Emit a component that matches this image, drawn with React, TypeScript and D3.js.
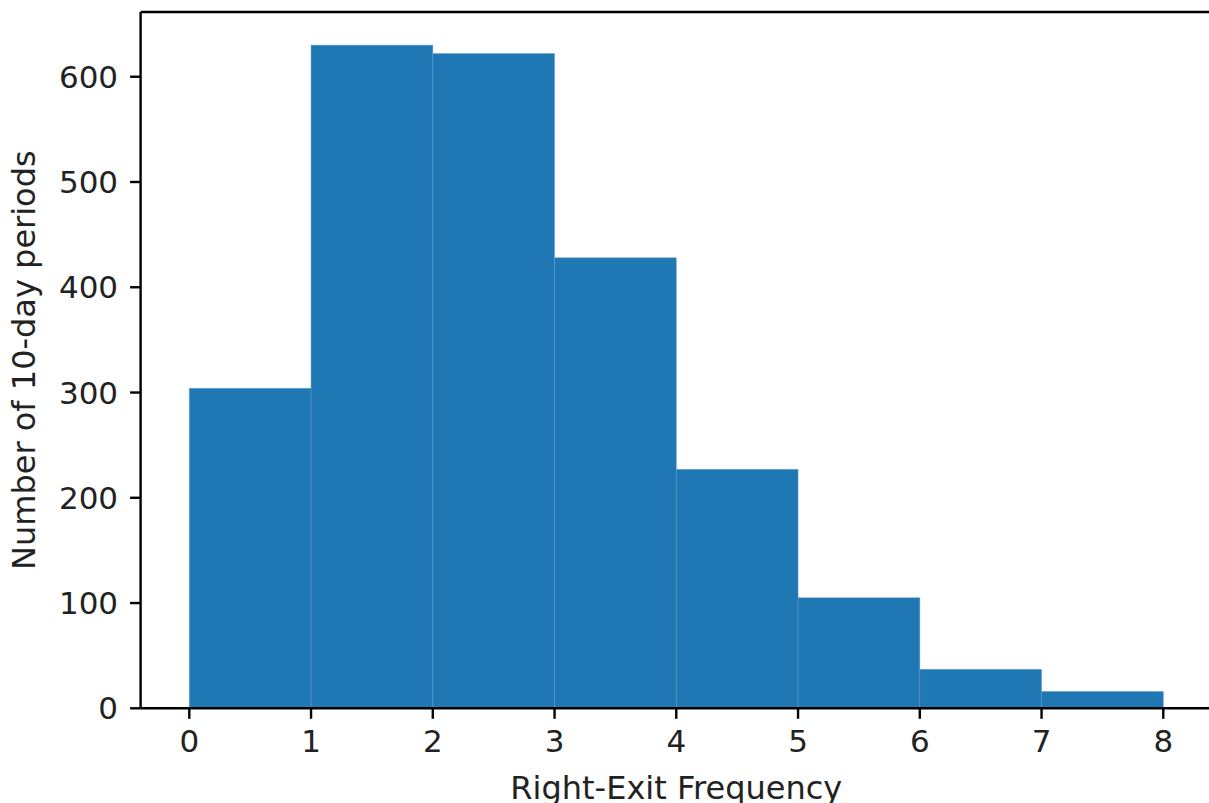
import React from "react";
import * as d3 from "d3";

const binEdges = [0, 1, 2, 3, 4, 5, 6, 7, 8];
const counts = [304, 630, 622, 428, 227, 105, 37, 16];
const xTicks = [0, 1, 2, 3, 4, 5, 6, 7, 8];
const yTicks = [0, 100, 200, 300, 400, 500, 600];
const xLabel = "Right-Exit Frequency";
const yLabel = "Number of 10-day periods";

const W = 1209;
const H = 803;
const left = 140.6;
const right = 1212;
const top = 12;
const bottom = 708.3;

export default function App() {
  const x = d3.scaleLinear().domain([-0.4, 8.4]).range([left, right]);
  const yMax = (d3.max(counts) as number) * 1.05;
  const y = d3.scaleLinear().domain([0, yMax]).range([bottom, top]);
  const font = "DejaVu Sans, sans-serif";
  const tickLen = 10.5;
  const fs = 31;
  const lfs = 32;
  const bars = counts.map((c, i) => ({ x0: binEdges[i], x1: binEdges[i + 1], c }));
  return (
    <svg
      width={W}
      height={H}
      style={{ position: "absolute", left: 0, top: 0, background: "#fff" }}
      fontFamily={font}
    >
      <rect x={0} y={0} width={W} height={H} fill="#fff" />
      {bars.map((b, i) => (
        <rect
          key={i}
          x={x(b.x0)}
          y={y(b.c)}
          width={x(b.x1) - x(b.x0)}
          height={y(0) - y(b.c)}
          fill="#1f77b4"
          stroke="#5d9dcc"
          strokeWidth={0.8}
          strokeOpacity={0.6}
        />
      ))}
      {/* spines */}
      <line x1={left} x2={left} y1={top} y2={bottom} stroke="#000" strokeWidth={2.4} />
      <line x1={left} x2={right} y1={top} y2={top} stroke="#000" strokeWidth={2.4} />
      <line x1={left} x2={right} y1={bottom} y2={bottom} stroke="#000" strokeWidth={2.4} />
      <line x1={right} x2={right} y1={top} y2={bottom} stroke="#000" strokeWidth={2.4} />
      {/* x ticks */}
      {xTicks.map((t) => (
        <g key={"x" + t} transform={`translate(${x(t)},${bottom})`}>
          <line y1={0} y2={tickLen} stroke="#000" strokeWidth={2.4} />
          <text y={tickLen + 10.5 + 22.5} textAnchor="middle" fontSize={fs} fill="#222">
            {t}
          </text>
        </g>
      ))}
      {/* y ticks */}
      {yTicks.map((t) => (
        <g key={"y" + t} transform={`translate(${left},${y(t)})`}>
          <line x1={0} x2={-tickLen} stroke="#000" strokeWidth={2.4} />
          <text x={-tickLen - 12} dy="0.36em" textAnchor="end" fontSize={fs} fill="#222">
            {t}
          </text>
        </g>
      ))}
      <text x={(left + right) / 2} y={799} textAnchor="middle" fontSize={lfs} fill="#222">
        {xLabel}
      </text>
      <text
        transform={`translate(35,${(top + bottom) / 2}) rotate(-90)`}
        textAnchor="middle"
        fontSize={lfs}
        fill="#222"
      >
        {yLabel}
      </text>
    </svg>
  );
}
